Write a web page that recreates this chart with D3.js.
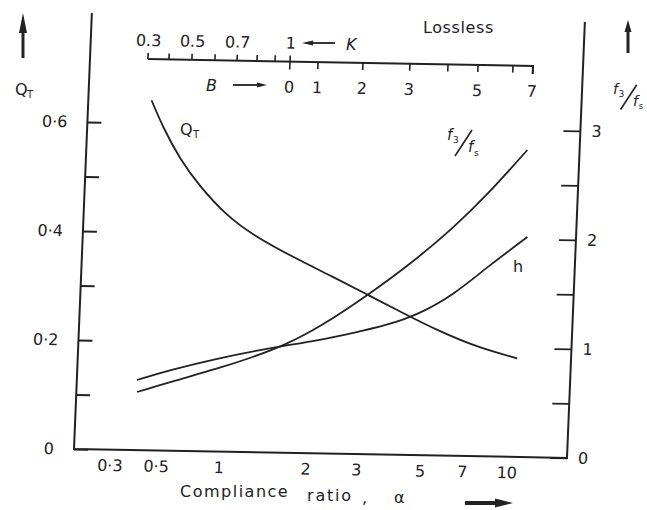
<!DOCTYPE html>
<html><head><meta charset="utf-8">
<script src="https://cdn.jsdelivr.net/npm/d3@7"></script>
<style>
html,body{margin:0;padding:0;background:#fff;}
svg{display:block;}
text{font-family:"DejaVu Sans",sans-serif;fill:#222;}
</style></head><body>
<svg id="c" width="647" height="510"></svg>
<script>
// ---------- data ----------
const alphaQT  = [0.405,0.465,0.569,0.720,0.983,1.224,1.696,2.352,3.129,4.16,5.63,7.80,10.5];
const valuesQT = [0.642,0.593,0.535,0.485,0.432,0.398,0.359,0.324,0.292,0.260,0.227,0.198,0.181];
const alphaF3  = [0.394,0.564,0.975,1.273,1.613,2.155,3.13,4.43,6.04,7.84,10.64];
const valuesF3 = [0.533,0.630,0.767,0.873,0.979,1.159,1.461,1.771,2.089,2.397,2.816];
const alphaH   = [0.391,0.561,0.970,1.343,1.613,2.163,2.81,3.68,4.66,6.18,8.03,10.95];
const valuesH  = [0.643,0.740,0.859,0.938,0.979,1.040,1.109,1.188,1.285,1.474,1.737,2.018];

const alphaTicks = [0.3,0.5,1,2,3,5,7,10];
const alphaTickLabels = ["0·3","0·5","1","2","3","5","7","10"];
const qtTicks  = [0,0.1,0.2,0.3,0.4,0.5,0.6];
const qtLabels = ["0","","0·2","","0·4","","0·6"];
const ratioTicks  = [0,0.5,1,1.5,2,2.5,3];
const ratioLabels = ["0","","1","","2","","3"];
// top scale: K and B values and the compliance ratio each sits at
const kTicks  = [0.3,0.4,0.5,0.6,0.7,0.8,0.9,1.0];
const kAlpha  = [0.382,0.482,0.621,0.801,1.016,1.192,1.377,1.552];
const kLabels = ["0.3","","0.5","","0.7","","","1"];
const bTicks  = [0,1,2,3,4,5,6,7];
const bAlpha  = [1.552,1.942,2.781,4.05,5.49,6.98,9.23,10.83];
const bLabels = ["0","1","2","3","","5","","7"];

// ---------- layout ----------
const ink = "#222";
const svg = d3.select("#c");
const x  = d3.scaleLog().domain([0.3,1,10]).range([110,219,507]);
const yL = d3.scaleLinear().domain([0,0.6]).range([449,122]);
const yR = d3.scaleLinear().domain([0,3]).range([449,122]);
const plotX0 = 74, plotX1 = 567, topY = 58;

// scanned page is slightly skewed
const g = svg.append("g").attr("transform","matrix(1,0.018,-0.041,1,18.4,-1.33)");

// frame (open top)
g.append("path")
  .attr("d", d3.line()([[plotX0,yL(0.8)],[plotX0,yL(0)],[plotX1,yR(0)],[plotX1,yR(4)]]))
  .attr("fill","none").attr("stroke",ink).attr("stroke-width",2);

function styleAxis(sel){
  sel.attr("font-family","DejaVu Sans").attr("font-size",16).style("color",ink);
  sel.select(".domain").remove();
  sel.selectAll("line").attr("stroke-width",1.8);
}
g.append("g").attr("transform",`translate(${plotX0},0)`)
  .call(d3.axisLeft(yL).tickValues(qtTicks).tickSizeInner(-14).tickSizeOuter(0)
        .tickPadding(20).tickFormat((d,i)=>qtLabels[i]))
  .call(styleAxis);
g.append("g").attr("transform",`translate(${plotX1},0)`)
  .call(d3.axisRight(yR).tickValues(ratioTicks).tickSizeInner(-17).tickSizeOuter(0)
        .tickPadding(11).tickFormat((d,i)=>ratioLabels[i]))
  .call(styleAxis);
g.append("g").attr("transform",`translate(0,${yL(0)})`)
  .call(d3.axisBottom(x).tickValues(alphaTicks).tickSize(0).tickPadding(10)
        .tickFormat((d,i)=>alphaTickLabels[i]))
  .call(styleAxis);

// curves
const lineL = d3.line().x(d=>x(d[0])).y(d=>yL(d[1])).curve(d3.curveBasis);
const lineR = d3.line().x(d=>x(d[0])).y(d=>yR(d[1])).curve(d3.curveBasis);
[lineL(d3.zip(alphaQT,valuesQT)), lineR(d3.zip(alphaF3,valuesF3)), lineR(d3.zip(alphaH,valuesH))]
  .forEach(p=>g.append("path").attr("d",p).attr("fill","none")
        .attr("stroke",ink).attr("stroke-width",1.8));

// top K / B scale
const xEnd = x(bAlpha[bAlpha.length-1]);
g.append("path")
  .attr("d", d3.line()([[x(kAlpha[0]),topY],[xEnd,topY],[xEnd,topY+8]]))
  .attr("fill","none").attr("stroke",ink).attr("stroke-width",2);
kAlpha.forEach((a,i)=>{
  const last = i===kAlpha.length-1;
  g.append("line").attr("x1",x(a)).attr("x2",x(a))
    .attr("y1",topY-6).attr("y2",last?topY+8:topY)
    .attr("stroke",ink).attr("stroke-width",1.6);
  if(kLabels[i]) g.append("text").attr("x",x(a)).attr("y",45)
    .attr("text-anchor","middle").attr("font-size",16).text(kLabels[i]);
});
bAlpha.forEach((a,i)=>{
  if(i>0) g.append("line").attr("x1",x(a)).attr("x2",x(a))
    .attr("y1",topY).attr("y2",topY+7).attr("stroke",ink).attr("stroke-width",1.6);
  if(bLabels[i]) g.append("text").attr("x",x(a)).attr("y",89)
    .attr("text-anchor","middle").attr("font-size",16).text(bLabels[i]);
});

// ---------- annotations ----------
const ann = svg.append("g");
function arrow(x1,y1,x2,y2,sw,hl,hw){
  const dx=x2-x1, dy=y2-y1, L=Math.hypot(dx,dy), ux=dx/L, uy=dy/L;
  const bx=x2-ux*hl, by=y2-uy*hl;
  ann.append("line").attr("x1",x1).attr("y1",y1).attr("x2",bx+ux).attr("y2",by+uy)
    .attr("stroke",ink).attr("stroke-width",sw);
  ann.append("path")
    .attr("d",`M${x2},${y2}L${bx-uy*hw/2},${by+ux*hw/2}L${bx+uy*hw/2},${by-ux*hw/2}Z`)
    .attr("fill",ink);
}
function txt(s,xx,yy,size,opts={}){
  const t=ann.append("text").attr("x",xx).attr("y",yy).attr("font-size",size).text(s);
  if(opts.italic) t.attr("font-style","italic");
  if(opts.ls) t.attr("letter-spacing",opts.ls);
  if(opts.anchor) t.attr("text-anchor",opts.anchor);
  return t;
}
function fracLabel(x0,y0,k){
  txt("f",x0,y0+15*k,15*k,{italic:true});
  txt("3",x0+6*k,y0+18*k,9*k);
  ann.append("line").attr("x1",x0+8*k).attr("y1",y0+31*k).attr("x2",x0+25*k).attr("y2",y0+5*k)
    .attr("stroke",ink).attr("stroke-width",1.6);
  txt("f",x0+21*k,y0+27*k,15*k,{italic:true});
  txt("s",x0+27*k,y0+31*k,9*k);
}

arrow(23,58,23,13,3,20,8);
txt("Q",15,95,16); txt("T",27,98,10);
arrow(628,53,628,20,3,12,7);
fracLabel(613,80,0.95);

txt("Lossless",423,33,16,{ls:0.6});
arrow(335,43,302,43,1.8,11,5);
txt("K",346,50,16,{italic:true});
txt("B",206,91,16,{italic:true});
arrow(233,85,267,85,1.8,10,5);

txt("Q",180,135,16); txt("T",193,138,10);
fracLabel(447,125,1);
txt("h",513,272,16);

txt("Compliance",180,497,16,{ls:1.5});
txt("ratio",307,501,16,{ls:1.8});
txt(",",362,503,16);
txt("α",394,503,16);
arrow(465,503,513,503,4,18,9);
</script>
</body></html>
